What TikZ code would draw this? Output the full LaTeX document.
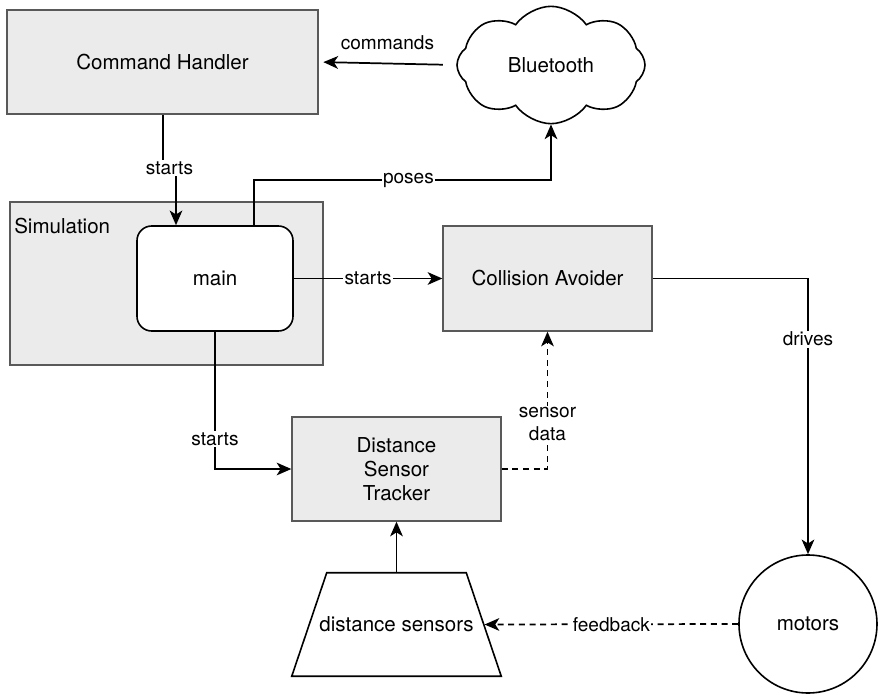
\documentclass[tikz,border=0pt]{standalone}
\usepackage{fontspec}
\setmainfont{TeX Gyre Heros}
\usetikzlibrary{arrows.meta,shapes.geometric,shapes.symbols}

\tikzset{
  block/.style={draw=black!65, fill=black!8, line width=1pt, inner sep=0pt,
    align=center, font=\fontsize{15.4}{18}\selectfont},
  lbl/.style={fill=white, inner sep=1pt, align=center,
    font=\fontsize{14.3}{17}\selectfont},
  conn/.style={line width=1.3pt, -{Stealth[length=11pt,width=9.5pt,inset=3pt]}},
  dash4/.style={dash pattern=on 4.5pt off 3.5pt},
}

\begin{document}
\begin{tikzpicture}[x=0.75pt,y=-0.75pt]
  \useasboundingbox (0,0) rectangle (883,700);

  \node[block, minimum width=233.25pt, minimum height=78pt] (ch) at (162.5,62) {Command Handler};
  \node[cloud, draw, line width=1.2pt, cloud puffs=8, cloud puff arc=110, aspect=1.57,
    minimum width=141pt, minimum height=88pt, inner sep=0pt,
    font=\fontsize{15.4}{18}\selectfont] (bt) at (551,65) {Bluetooth};
  \node[block, minimum width=234.75pt, minimum height=122.25pt] (sim) at (166.5,283.5) {};
  \node[anchor=base west, font=\fontsize{15.4}{18}\selectfont, inner sep=0pt] (simlbl) at (14,233) {Simulation};
  \node[draw, fill=white, line width=1.2pt, rounded corners=11pt, minimum width=117pt,
    minimum height=78.75pt, font=\fontsize{15.4}{18}\selectfont] (main) at (215,278.5) {main};
  \node[block, minimum width=156.75pt, minimum height=78.75pt] (ca) at (547.5,278.5) {Collision Avoider};
  \node[block, minimum width=156.75pt, minimum height=78pt] (dst) at (396.5,469) {Distance\\Sensor\\Tracker};
  \node[minimum width=156.75pt, minimum height=77.25pt, inner sep=0pt,
    font=\fontsize{15.4}{18}\selectfont] (ds) at (396.5,624.5) {distance sensors};
  \draw[line width=1.2pt] (ds.south west) -- (ds.south east) -- ([xshift=-26.25pt]ds.north east)
    -- ([xshift=26.25pt]ds.north west) -- cycle;
  \node[circle, draw, line width=1.2pt, minimum size=103.5pt,
    font=\fontsize{15.4}{18}\selectfont] (mot) at (808,624) {motors};

  \coordinate (j1) at (163,168);
  \coordinate (j2) at (176,168);
  \coordinate (pz) at (254,180);

  % connectors
  \draw[conn, shorten <=10pt, shorten >=3.5pt] (bt.west) -- node[lbl, above=9pt] {commands} (ch.east);
  \draw[conn] (ch.south -| j1) -- (j1) -- node[lbl] {starts} (j2) -- (j2 |- main.north);
  \draw[conn] (main.north -| pz) -- (pz) -| node[lbl, pos=0.26] {poses} (bt.south);
  \draw[conn] (main.east) -- node[lbl] {starts} (ca.west);
  \draw[conn] (ca.east) -| node[lbl, pos=0.61] {drives} (mot.north);
  \draw[conn] (main.south) |- node[lbl, pos=0.39] {starts} (dst.west);
  \draw[conn, dash4] (dst.east) -| node[lbl, pos=0.663] {sensor\\data} (ca.south);
  \draw[conn] (ds.north) -- (dst.south);
  \draw[conn, dash4] (mot.west) -- node[lbl] {feedback} ([xshift=-12.5pt]ds.east);
\end{tikzpicture}
\end{document}
